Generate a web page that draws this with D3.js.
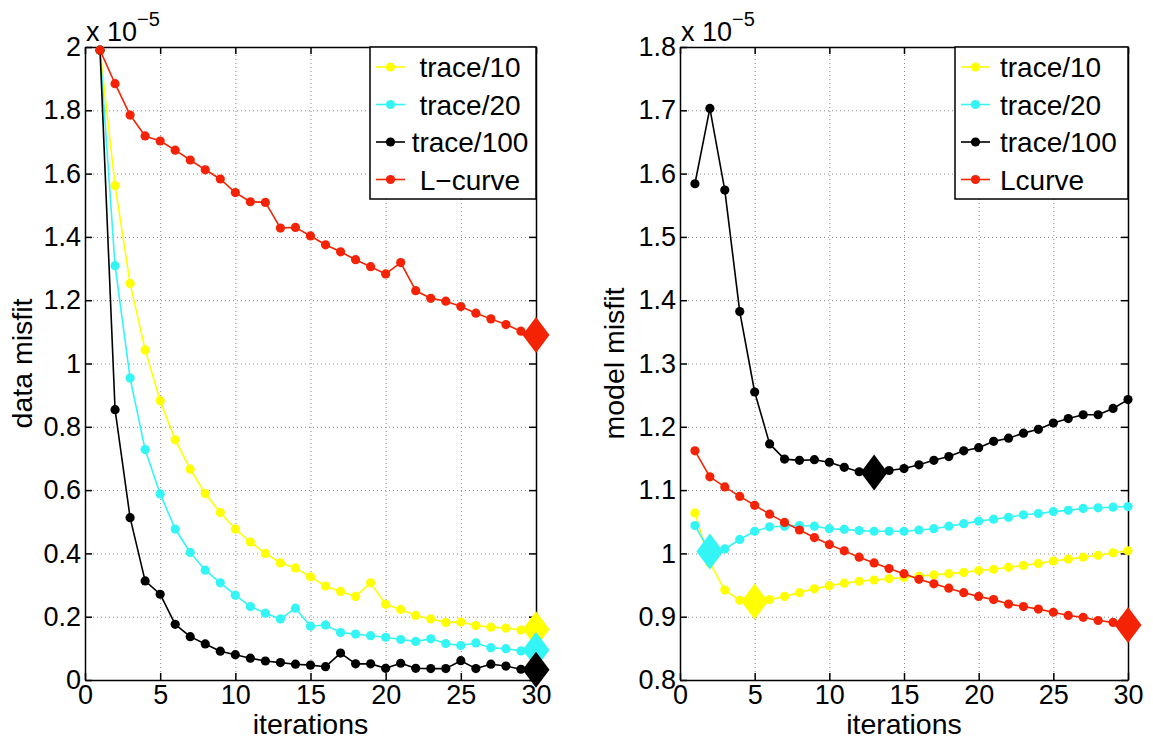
<!DOCTYPE html>
<html><head><meta charset="utf-8">
<script src="https://cdn.jsdelivr.net/npm/d3@7"></script>
<style>
body{margin:0;background:#fff;}
svg text{font-family:"Liberation Sans",Arial,Helvetica,sans-serif;fill:#000;}
</style></head>
<body><svg id="chart" width="1153" height="740"></svg>
<script>
// ---- data ----
const iterations = [1,2,3,4,5,6,7,8,9,10,11,12,13,14,15,16,17,18,19,20,21,22,23,24,25,26,27,28,29,30];
const seriesNamesLeft = ["trace/10","trace/20","trace/100","L\u2212curve"];
const seriesNamesRight = ["trace/10","trace/20","trace/100","Lcurve"];
const seriesColors = ["#ffff00","#33f5f5","#000000","#f52305"];

// data misfit (x 1e-5)
const dataT10  = [1.99,1.562,1.253,1.043,0.882,0.759,0.666,0.589,0.529,0.477,0.436,0.400,0.370,0.354,0.326,0.297,0.280,0.264,0.307,0.239,0.223,0.204,0.193,0.182,0.183,0.172,0.167,0.164,0.158,0.160];
const dataT20  = [1.99,1.309,0.954,0.728,0.588,0.477,0.403,0.347,0.307,0.268,0.232,0.211,0.193,0.227,0.170,0.174,0.150,0.145,0.140,0.135,0.128,0.122,0.130,0.115,0.109,0.117,0.102,0.099,0.092,0.095];
const dataT100 = [1.99,0.854,0.513,0.313,0.271,0.176,0.137,0.114,0.091,0.080,0.069,0.060,0.055,0.050,0.047,0.042,0.085,0.051,0.051,0.037,0.053,0.037,0.036,0.036,0.061,0.036,0.050,0.044,0.034,0.032];
const dataL    = [1.99,1.884,1.785,1.719,1.703,1.674,1.643,1.612,1.583,1.540,1.511,1.509,1.428,1.430,1.403,1.375,1.353,1.328,1.306,1.283,1.319,1.230,1.206,1.197,1.180,1.159,1.141,1.123,1.102,1.090];
const dataMarkIter = [30,30,30,30];

// model misfit (x 1e-5)
const modelT10  = [1.064,0.985,0.942,0.926,0.924,0.927,0.932,0.938,0.944,0.949,0.953,0.956,0.958,0.960,0.962,0.964,0.966,0.968,0.970,0.973,0.975,0.978,0.981,0.984,0.988,0.991,0.994,0.997,1.001,1.004];
const modelT20  = [1.044,1.003,1.007,1.022,1.035,1.042,1.043,1.044,1.043,1.039,1.038,1.036,1.035,1.035,1.035,1.037,1.039,1.043,1.047,1.051,1.054,1.057,1.061,1.063,1.066,1.068,1.071,1.072,1.073,1.074];
const modelT100 = [1.584,1.703,1.574,1.382,1.255,1.173,1.149,1.147,1.148,1.144,1.136,1.129,1.128,1.131,1.134,1.140,1.147,1.153,1.162,1.167,1.177,1.182,1.190,1.196,1.206,1.213,1.219,1.219,1.229,1.243];
const modelL    = [1.162,1.121,1.105,1.090,1.076,1.062,1.049,1.037,1.025,1.014,1.004,0.994,0.985,0.976,0.968,0.959,0.952,0.945,0.938,0.932,0.927,0.920,0.916,0.912,0.907,0.902,0.899,0.894,0.891,0.887];
const modelMarkIter = [5,2,13,30];

// ticks
const xTicks = [0,5,10,15,20,25,30];
const xTickLabels = ["0","5","10","15","20","25","30"];
const leftYTicks = [0,0.2,0.4,0.6,0.8,1,1.2,1.4,1.6,1.8,2];
const leftYTickLabels = ["0","0.2","0.4","0.6","0.8","1","1.2","1.4","1.6","1.8","2"];
const rightYTicks = [0.8,0.9,1,1.1,1.2,1.3,1.4,1.5,1.6,1.7,1.8];
const rightYTickLabels = ["0.8","0.9","1","1.1","1.2","1.3","1.4","1.5","1.6","1.7","1.8"];

// ---- drawing ----
const svg = d3.select("#chart");
const TICKFONT = 27, LABELFONT = 28.5, LEGFONT = 28;

function panel(cfg){
  const x = d3.scaleLinear().domain([0,30]).range([cfg.x0,cfg.x1]);
  const y = d3.scaleLinear().domain(cfg.ydom).range([cfg.y1,cfg.y0]);
  const g = svg.append("g");
  const W = cfg.x1-cfg.x0, H = cfg.y1-cfg.y0;

  // grid
  const gx = g.append("g").attr("transform",`translate(0,${cfg.y1})`)
    .call(d3.axisBottom(x).tickValues(xTicks.slice(1,-1)).tickSize(-H).tickFormat(""));
  const gy = g.append("g").attr("transform",`translate(${cfg.x0},0)`)
    .call(d3.axisLeft(y).tickValues(cfg.yticks.slice(1,-1)).tickSize(-W).tickFormat(""));
  [gx,gy].forEach(a=>{a.select(".domain").remove();
    a.selectAll(".tick line").attr("stroke","#8a8a8a").attr("stroke-width",1).attr("stroke-dasharray","1,3");});

  // axes with inward ticks
  const styleAxis = a=>{a.select(".domain").attr("stroke","#000").attr("stroke-width",1.5);
    a.selectAll(".tick line").attr("stroke","#000").attr("stroke-width",1.5);
    a.selectAll("text").attr("font-size",TICKFONT).attr("font-family","Liberation Sans, Arial, sans-serif").attr("fill","#000");};
  const ab = g.append("g").attr("transform",`translate(0,${cfg.y1})`)
    .call(d3.axisBottom(x).tickValues(xTicks).tickSize(-7).tickSizeOuter(0).tickPadding(5).tickFormat((d,i)=>xTickLabels[i]));
  styleAxis(ab);
  ab.selectAll("text").attr("dy","0.71em");
  const at = g.append("g").attr("transform",`translate(0,${cfg.y0})`)
    .call(d3.axisTop(x).tickValues(xTicks).tickSize(-7).tickSizeOuter(0).tickFormat(""));
  styleAxis(at);
  const al = g.append("g").attr("transform",`translate(${cfg.x0},0)`)
    .call(d3.axisLeft(y).tickValues(cfg.yticks).tickSize(-7).tickSizeOuter(0).tickPadding(4).tickFormat((d,i)=>cfg.ylabels[i]));
  styleAxis(al);
  const ar = g.append("g").attr("transform",`translate(${cfg.x1},0)`)
    .call(d3.axisRight(y).tickValues(cfg.yticks).tickSize(-7).tickSizeOuter(0).tickFormat(""));
  styleAxis(ar);

  // exponent label
  const ex = g.append("text").attr("x",cfg.x0+1).attr("y",cfg.y0-6).attr("font-size",TICKFONT);
  ex.append("tspan").text("x 10");
  ex.append("tspan").attr("dy",-15).attr("font-size",20).text("\u22125");

  // axis titles
  g.append("text").attr("x",(cfg.x0+cfg.x1)/2).attr("y",734).attr("text-anchor","middle")
    .attr("font-size",LABELFONT).text("iterations");
  g.append("text").attr("transform",`translate(${cfg.ylabX},${(cfg.y0+cfg.y1)/2}) rotate(-90)`)
    .attr("text-anchor","middle").attr("font-size",LABELFONT).text(cfg.ylabel);

  // series lines + dots
  const line = d3.line().x((d,i)=>x(iterations[i])).y(d=>y(d));
  cfg.series.forEach((s,k)=>{
    g.append("path").datum(s).attr("d",line).attr("fill","none")
      .attr("stroke",seriesColors[k]).attr("stroke-width",1.6).attr("stroke-linejoin","round");
    g.selectAll(null).data(s).enter().append("circle")
      .attr("cx",(d,i)=>x(iterations[i])).attr("cy",d=>y(d)).attr("r",4.6)
      .attr("fill",seriesColors[k]);
  });
  // diamonds
  cfg.series.forEach((s,k)=>{
    const it = cfg.marks[k];
    const cx = x(it), cy = y(s[iterations.indexOf(it)]);
    const hw=13.5, hh=18;
    g.append("path").attr("d",`M${cx},${cy-hh}L${cx+hw},${cy}L${cx},${cy+hh}L${cx-hw},${cy}Z`)
      .attr("fill",seriesColors[k]);
  });

  // legend
  const lg = g.append("g");
  lg.append("rect").attr("x",cfg.legX).attr("y",cfg.y0).attr("width",cfg.x1-cfg.legX).attr("height",152)
    .attr("fill","#fff").attr("stroke","#000").attr("stroke-width",1.5);
  cfg.names.forEach((n,k)=>{
    const ry = cfg.y0 + 20 + k*37.5;
    lg.append("line").attr("x1",cfg.legX+6).attr("x2",cfg.legX+35).attr("y1",ry).attr("y2",ry)
      .attr("stroke",seriesColors[k]).attr("stroke-width",1.6);
    lg.append("circle").attr("cx",cfg.legX+20.5).attr("cy",ry).attr("r",4.6).attr("fill",seriesColors[k]);
    const t = lg.append("text").attr("y",ry).attr("dy","0.36em").attr("font-size",LEGFONT).text(n);
    if(cfg.legCenter){ t.attr("x",cfg.legX+100).attr("text-anchor","middle"); }
    else { t.attr("x",cfg.legX+45); }
  });
}

panel({x0:85,x1:536,y0:47,y1:680,ydom:[0,2],yticks:leftYTicks,ylabels:leftYTickLabels,
  ylabel:"data misfit",ylabX:32,series:[dataT10,dataT20,dataT100,dataL],marks:dataMarkIter,
  names:seriesNamesLeft,legX:370,legCenter:true});
panel({x0:680,x1:1128,y0:47,y1:680,ydom:[0.8,1.8],yticks:rightYTicks,ylabels:rightYTickLabels,
  ylabel:"model misfit",ylabX:624,series:[modelT10,modelT20,modelT100,modelL],marks:modelMarkIter,
  names:seriesNamesRight,legX:955,legCenter:false});
</script></body></html>
